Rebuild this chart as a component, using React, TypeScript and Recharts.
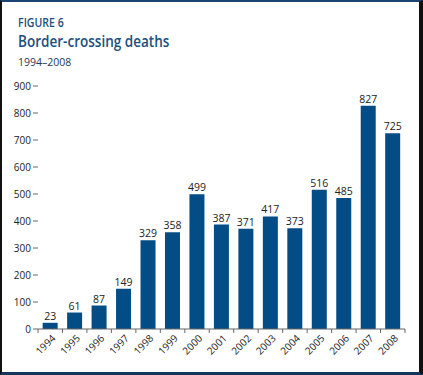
import React from 'react';
import { BarChart, Bar, XAxis, YAxis, LabelList } from 'recharts';

const years = ['1994','1995','1996','1997','1998','1999','2000','2001','2002','2003','2004','2005','2006','2007','2008'];
const deaths = [23, 61, 87, 149, 329, 358, 499, 387, 371, 417, 373, 516, 485, 827, 725];
const yTicks = [0, 100, 200, 300, 400, 500, 600, 700, 800, 900];

const data = years.map((y, i) => ({ year: y, deaths: deaths[i] }));

const FONT = '"Open Sans", "Noto Sans", sans-serif';
const BAR = '#034c86';
const HALF_BAND = 12.23;

const XTick = (props: any) => {
  const { x, y, payload, index } = props;
  return (
    <g>
      {index === 0 && <line x1={x - HALF_BAND} y1={y - 8} x2={x - HALF_BAND} y2={y - 4} stroke="#666" />}
      <line x1={x + HALF_BAND} y1={y - 8} x2={x + HALF_BAND} y2={y - 4} stroke="#666" />
      <text
        x={x + 6}
        y={y + 2}
        textAnchor="end"
        fontSize={10}
        fontFamily={FONT}
        fill="#222"
        transform={`rotate(-45, ${x + 6}, ${y + 2})`}
      >
        {payload.value}
      </text>
    </g>
  );
};

export default function App() {
  return (
    <div
      style={{
        position: 'absolute',
        left: 0,
        top: 0,
        width: 423,
        height: 375,
        boxSizing: 'border-box',
        background: '#fff',
        borderLeft: '2px solid #111',
        borderRight: '4px solid #111',
        borderTop: '2px solid #1b4470',
        borderBottom: '3px solid #14365c',
        fontFamily: FONT,
        overflow: 'hidden',
      }}
    >
      <div
        style={{
          position: 'absolute', left: 16, top: 14, fontSize: 12, fontWeight: 600, color: '#1d4f80',
          lineHeight: '14px', transform: 'scaleX(0.88)', transformOrigin: 'left top', whiteSpace: 'nowrap',
        }}
      >
        FIGURE 6
      </div>
      <div
        style={{
          position: 'absolute', left: 16, top: 29, fontSize: 16.5, fontWeight: 600, color: '#1d4f80',
          lineHeight: '20px', transform: 'scaleX(0.82)', transformOrigin: 'left top', whiteSpace: 'nowrap',
        }}
      >
        Border-crossing deaths
      </div>
      <div
        style={{
          position: 'absolute', left: 16, top: 53, fontSize: 10.5, color: '#1c3a5a',
          lineHeight: '14px', whiteSpace: 'nowrap',
        }}
      >
        1994–2008
      </div>
      <div style={{ position: 'absolute', left: -2, top: -2 }}>
        <BarChart
          width={423}
          height={375}
          data={data}
          margin={{ top: 86, right: 18, left: 0, bottom: 0 }}
          barCategoryGap="19%"
        >
          <YAxis
            domain={[0, 900]}
            ticks={yTicks}
            width={38}
            axisLine={false}
            tickLine={{ stroke: '#666' }}
            tickSize={5}
            tickMargin={2}
            tick={{ fontSize: 10, fontFamily: FONT, fill: '#222' }}
            interval={0}
          />
          <XAxis
            dataKey="year"
            height={46}
            axisLine={{ stroke: '#666' }}
            tickLine={false}
            interval={0}
            tick={<XTick />}
          />
          <Bar dataKey="deaths" fill={BAR} isAnimationActive={false}>
            <LabelList dataKey="deaths" position="top" offset={3} fontSize={10.5} fontFamily={FONT} fill="#222" />
          </Bar>
        </BarChart>
      </div>
    </div>
  );
}
